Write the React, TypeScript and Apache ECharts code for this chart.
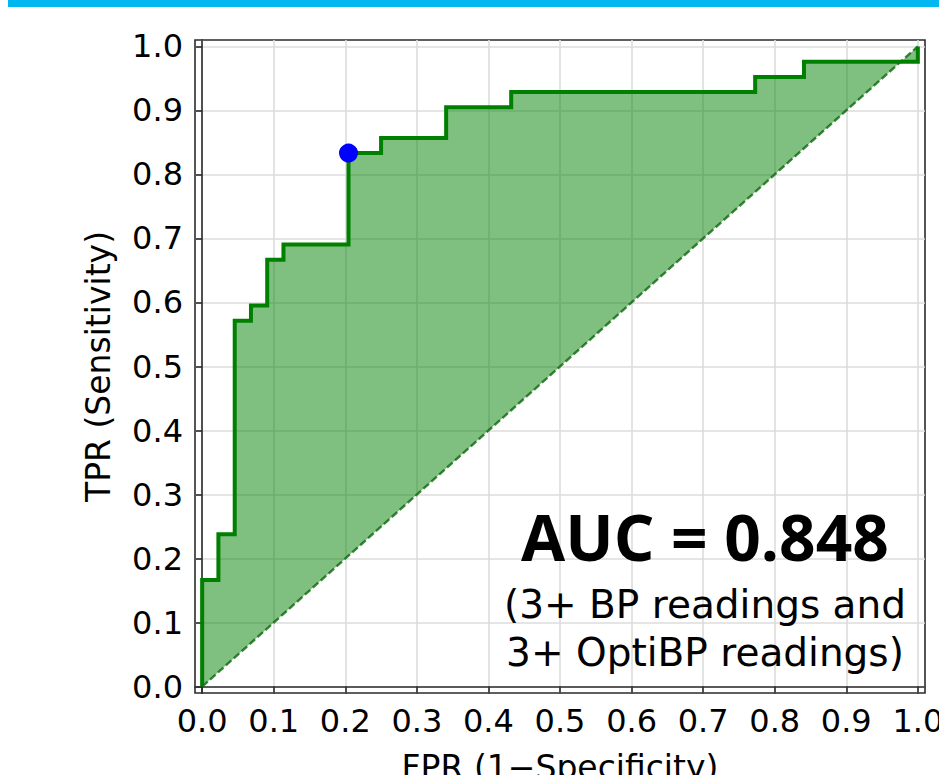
import React, { useEffect, useRef } from 'react';
import * as echarts from 'echarts';

// ROC curve corner points (FPR, TPR)
const fpr = [0, 0, 0.0227, 0.0227, 0.0455, 0.0455, 0.0682, 0.0682, 0.0909, 0.0909, 0.1136, 0.1136, 0.2045, 0.2045, 0.25, 0.25, 0.3409, 0.3409, 0.4318, 0.4318, 0.7727, 0.7727, 0.8409, 0.8409, 1.0, 1.0];
const tpr = [0, 0.1667, 0.1667, 0.2381, 0.2381, 0.5714, 0.5714, 0.5952, 0.5952, 0.6667, 0.6667, 0.6905, 0.6905, 0.8333, 0.8333, 0.8571, 0.8571, 0.9048, 0.9048, 0.9286, 0.9286, 0.9524, 0.9524, 0.9762, 0.9762, 1.0];
// chance diagonal
const diagX = [0, 1];
const diagY = [0, 1];
// optimal operating point
const optimalPoint = [0.2045, 0.8333];
// tick values
const tickValues = [0, 0.1, 0.2, 0.3, 0.4, 0.5, 0.6, 0.7, 0.8, 0.9, 1.0];
const aucText = 'AUC = 0.848';
const subText1 = '(3+ BP readings and';
const subText2 = '3+ OptiBP readings)';

export default function App() {
  const ref = useRef<HTMLDivElement>(null);
  useEffect(() => {
    document.body.style.margin = '0';
    if (!ref.current) return;
    const chart = echarts.init(ref.current, null, { renderer: 'svg' });
    const spine = '#2b2b2b';
    const axisCommon = (name: string, gap: number) => ({
      type: 'value',
      min: -0.01,
      max: 1.01,
      name,
      nameLocation: 'middle',
      nameGap: gap,
      nameTextStyle: { fontFamily: 'DejaVu Sans', fontSize: 33, color: '#000' },
      axisLine: { show: true, lineStyle: { color: spine, width: 1.6 } },
      axisTick: { show: true, customValues: tickValues, length: 7, lineStyle: { color: spine, width: 1.6 } },
      axisLabel: {
        customValues: tickValues,
        formatter: (v: number) => v.toFixed(1),
        fontFamily: 'DejaVu Sans',
        fontSize: 32,
        color: '#000',
        margin: 12,
      },
      splitLine: { show: true, lineStyle: { color: '#dcdcdc', width: 1.6 } },
    });
    chart.setOption({
      animation: false,
      grid: {
        left: 195, top: 40, right: 14, bottom: 82,
        containLabel: false,
        outerBoundsMode: 'none',
        show: true, borderColor: spine, borderWidth: 1.6, backgroundColor: 'transparent',
      },
      xAxis: axisCommon('FPR (1\u2212Specificity)', 58),
      yAxis: axisCommon('TPR (Sensitivity)', 80),
      series: [
        {
          type: 'custom',
          data: fpr.map((x, i) => [x, tpr[i]]),
          encode: { x: 0, y: 1 },
          z: 1,
          silent: true,
          renderItem: (params: any, api: any) => {
            if (params.dataIndex !== 0) return null;
            const pts = fpr.map((x, i) => api.coord([x, tpr[i]]));
            return { type: 'polygon', shape: { points: pts }, style: { fill: 'rgba(0,128,0,0.5)' } };
          },
        },
        {
          type: 'line',
          data: diagX.map((x, i) => [x, diagY[i]]),
          symbol: 'none',
          z: 2,
          lineStyle: { color: 'rgba(0,95,0,0.75)', width: 2.4, type: [7.4, 3.2] },
        },
        {
          type: 'line',
          data: fpr.map((x, i) => [x, tpr[i]]),
          symbol: 'none',
          z: 3,
          lineStyle: { color: '#008000', width: 4, join: 'miter', cap: 'butt' },
        },
        {
          type: 'scatter',
          data: [optimalPoint],
          symbolSize: 19,
          z: 4,
          itemStyle: { color: '#0000ff', opacity: 1 },
        },
      ],
      graphic: [
        { type: 'rect', shape: { x: 8, y: 0, width: 931, height: 7 }, style: { fill: '#00b7f0' } },
        {
          type: 'text', x: 705, y: 536, z: 10,
          style: { text: aucText, fontFamily: 'Open Sans', fontWeight: 'bold', fontSize: 64, fill: '#000', align: 'center', verticalAlign: 'middle' },
        },
        {
          type: 'text', x: 705, y: 604, z: 10,
          style: { text: subText1, fontFamily: 'DejaVu Sans', fontSize: 39, fill: '#000', align: 'center', verticalAlign: 'middle' },
        },
        {
          type: 'text', x: 705, y: 652, z: 10,
          style: { text: subText2, fontFamily: 'DejaVu Sans', fontSize: 39, fill: '#000', align: 'center', verticalAlign: 'middle' },
        },
      ],
    });
    return () => chart.dispose();
  }, []);
  return <div ref={ref} style={{ width: 939, height: 775 }} />;
}
